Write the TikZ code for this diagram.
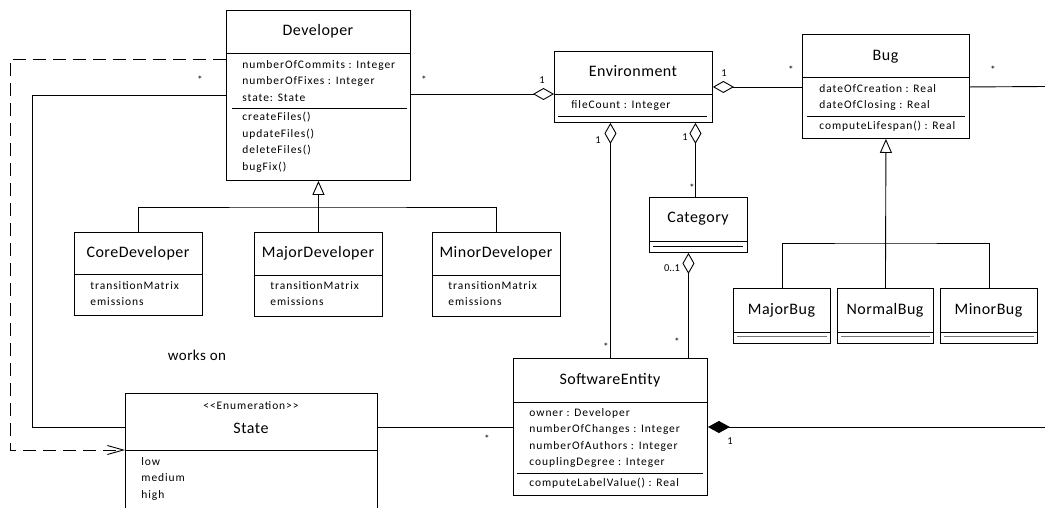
\documentclass[tikz,border=0pt]{standalone}
\usepackage{fontspec}
\setmainfont{Carlito}
\newfontfamily\clsfamily[LetterSpace=3]{Carlito}
\newfontfamily\attfamily[LetterSpace=8]{Carlito}
\usetikzlibrary{arrows.meta}
% one attribute/operation per line, 16.5pt apart
\newcommand\attlines[4]{%
  \foreach \t [count=\i] in {#4} {\node[att] (#1-\i) at (#2,{#3+(\i-1)*16.5}) {\t};}}
\begin{document}
\begin{tikzpicture}[x=1pt,y=-1pt,line width=0.9pt,
  umlbox/.style={draw,rectangle,inner sep=0pt,anchor=north west},
  ttl/.style={inner sep=0pt,font=\clsfamily\fontsize{16}{19}\selectfont,text height=10.3pt,text depth=3.9pt},
  att/.style={inner sep=0pt,anchor=west,font=\attfamily\fontsize{11.5}{14}\selectfont,text height=7.4pt,text depth=2.9pt},
  mult/.style={inner sep=0pt,font=\fontsize{10.5}{12}\selectfont},
  agg/.style={{Diamond[open,length=21pt,width=12pt]}-},
  comp/.style={{Diamond[length=22pt,width=12pt]}-},
  gen/.style={{Triangle[open,length=14pt,width=12pt]}-},
  dep/.style={dash pattern=on 13pt off 7pt,-{Straight Barb[length=16pt,width=9pt]}},
  emptyline/.style={draw=black!55,line width=1.2pt},
]
\useasboundingbox (0,0) rectangle (1045,507);
\clip (0,0) rectangle (1045,507);

% ---------- Developer ----------
\node[umlbox,minimum width=184pt,minimum height=170pt] (dev) at (226,10) {};
\node[ttl] (dev-t) at (318,32) {Developer};
\draw (dev.west |- 0,53) -- (dev.east |- 0,53);
\attlines{dev-a}{242}{66}{numberOfCommits : Integer,numberOfFixes : Integer,state: State}
\draw (232,108) -- (407,108);
\attlines{dev-m}{242}{118.5}{createFiles(),updateFiles(),deleteFiles(),bugFix()}

% ---------- Developer subclasses ----------
\node[umlbox,minimum width=128pt,minimum height=83pt] (cdev) at (74,232) {};
\node[ttl] (cdev-t) at (138,254) {CoreDeveloper};
\draw (cdev.west |- 0,274) -- (cdev.east |- 0,274);
\attlines{cdev-a}{90}{287}{transitionMatrix,emissions}

\node[umlbox,minimum width=128pt,minimum height=84pt] (mjdev) at (254,232) {};
\node[ttl] (mjdev-t) at (318,254) {MajorDeveloper};
\draw (mjdev.west |- 0,275) -- (mjdev.east |- 0,275);
\attlines{mjdev-a}{270}{287}{transitionMatrix,emissions}

\node[umlbox,minimum width=128pt,minimum height=84pt] (mndev) at (432,232) {};
\node[ttl] (mndev-t) at (496,254) {MinorDeveloper};
\draw (mndev.west |- 0,275) -- (mndev.east |- 0,275);
\attlines{mndev-a}{448}{287}{transitionMatrix,emissions}

% ---------- Environment ----------
\node[umlbox,minimum width=158pt,minimum height=71pt] (env) at (554,51) {};
\node[ttl] (env-t) at (633,73) {Environment};
\draw (env.west |- 0,94) -- (env.east |- 0,94);
\attlines{env-a}{571}{106}{fileCount : Integer}
\draw (558,116) -- (707,116);

% ---------- Bug ----------
\node[umlbox,minimum width=167pt,minimum height=104pt] (bug) at (802,34) {};
\node[ttl] (bug-t) at (885.5,57) {Bug};
\draw (bug.west |- 0,77) -- (bug.east |- 0,77);
\attlines{bug-a}{819}{90}{dateOfCreation : Real,dateOfClosing : Real}
\draw (807,116) -- (965,116);
\attlines{bug-m}{819}{127}{computeLifespan() : Real}

% ---------- Bug subclasses ----------
\node[umlbox,minimum width=97pt,minimum height=55pt] (mbug) at (733,288) {};
\node[ttl] (mbug-t) at (781.5,311) {MajorBug};
\draw (mbug.west |- 0,332) -- (mbug.east |- 0,332);
\draw[emptyline] (737,336.5) -- (827,336.5);

\node[umlbox,minimum width=96pt,minimum height=55pt] (nbug) at (837,288) {};
\node[ttl] (nbug-t) at (885,311) {NormalBug};
\draw (nbug.west |- 0,332) -- (nbug.east |- 0,332);
\draw[emptyline] (841,336.5) -- (930,336.5);

\node[umlbox,minimum width=97pt,minimum height=55pt] (mibug) at (940,288) {};
\node[ttl] (mibug-t) at (988.5,311) {MinorBug};
\draw (mibug.west |- 0,332) -- (mibug.east |- 0,332);
\draw[emptyline] (944,336.5) -- (1034,336.5);

% ---------- Category ----------
\node[umlbox,minimum width=98pt,minimum height=55pt] (cat) at (649,197) {};
\node[ttl] (cat-t) at (698,219) {Category};
\draw (cat.west |- 0,241) -- (cat.east |- 0,241);
\draw (653,246) -- (743,246);

% ---------- SoftwareEntity ----------
\node[umlbox,minimum width=194pt,minimum height=137pt] (se) at (513,358) {};
\node[ttl] (se-t) at (610,381) {SoftwareEntity};
\draw (se.west |- 0,402) -- (se.east |- 0,402);
\attlines{se-a}{529}{414}{owner : Developer,numberOfChanges : Integer,numberOfAuthors : Integer,couplingDegree : Integer}
\draw (517,473) -- (703,473);
\attlines{se-m}{529}{484.5}{computeLabelValue() : Real}

% ---------- State (enumeration) ----------
\node[umlbox,minimum width=252pt,minimum height=130pt] (state) at (125,393) {};
\node[inner sep=0pt,font=\attfamily\fontsize{11.5}{14}\selectfont] (state-s) at (251,406) {<{}<Enumeration>{}>};
\node[ttl] (state-t) at (251,430) {State};
\draw (state.west |- 0,450) -- (state.east |- 0,450);
\attlines{state-a}{141}{463}{low,medium,high}

% ---------- connectors ----------
\coordinate (devj) at (dev.south |- 0,207);
\draw[gen] (dev.south) -- (mjdev.north);
\draw (cdev.north) |- (devj) -| (mndev.north);

\coordinate (bugj) at (bug.south |- 0,243);
\draw[gen] (bug.south) -- (nbug.north);
\draw (mbug.north) |- (bugj) -| (mibug.north);

\draw[agg] (env.west |- 0,94) -- (dev.east |- 0,94);
\draw[agg] (env.east) -- (bug.west |- env.east);
\coordinate (bugR) at (1045,86.5);
\draw (bug.east |- env.east) -- (bugR);

\coordinate (catin) at ([xshift=-3pt]cat.north);
\draw[agg] (catin |- env.south) -- (catin);
\draw[agg] (se.north |- env.south) -- (se.north);
\coordinate (catout) at ([xshift=-10pt]cat.south);
\draw[agg] (catout) -- (catout |- se.north);

\draw (state.east |- 0,427) -- (se.west |- 0,427);
\coordinate (seR) at (1045,427);
\draw[comp] (se.east |- 0,427) -- (seR);

\draw (dev.west |- 0,95) -| (32,427) -- (state.west |- 0,427);
\draw[dep] (dev.west |- 0,59) -| (10,450) -- (state.west |- 0,450);

\node[inner sep=0pt,font=\clsfamily\fontsize{15}{18}\selectfont] (workson) at (197,355) {works on};

% ---------- multiplicities ----------
\node[mult] (m1) at (200,80) {*};
\node[mult] (m2) at (424,80) {*};
\node[mult] (m3) at (542,80) {1};
\node[mult] (m4) at (724,73) {1};
\node[mult] (m5) at (791,70) {*};
\node[mult] (m6) at (993,70) {*};
\node[mult] (m7) at (598,140) {1};
\node[mult] (m8) at (685,137) {1};
\node[mult] (m9) at (692,188) {*};
\node[mult] (m10) at (672,268) {0..1};
\node[mult] (m11) at (606,347) {*};
\node[mult] (m12) at (677,342) {*};
\node[mult] (m13) at (487,439) {*};
\node[mult] (m14) at (730,441) {1};
\end{tikzpicture}
\end{document}
